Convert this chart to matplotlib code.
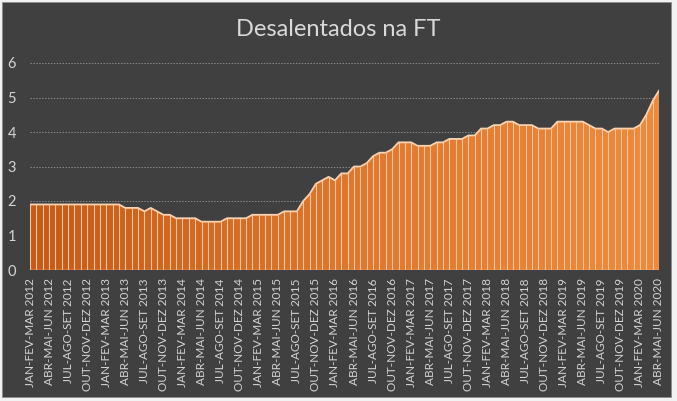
import numpy as np
import matplotlib
matplotlib.use("Agg")
from matplotlib import pyplot as plt
from matplotlib.colors import LinearSegmentedColormap
from matplotlib.patches import Rectangle

plt.rcParams['font.family'] = ['Lato', 'DejaVu Sans']

## data: desalentados na FT (%), trimestres móveis
quarters = ['JAN-FEV-MAR', 'ABR-MAI-JUN', 'JUL-AGO-SET', 'OUT-NOV-DEZ']
years = list(range(2012, 2021))
values = [1.9, 1.9, 1.9, 1.9, 1.9, 1.9, 1.9, 1.9, 1.9, 1.9,
          1.9, 1.9, 1.9, 1.9, 1.9, 1.8, 1.8, 1.8, 1.7, 1.8,
          1.7, 1.6, 1.6, 1.5, 1.5, 1.5, 1.5, 1.4, 1.4, 1.4,
          1.4, 1.5, 1.5, 1.5, 1.5, 1.6, 1.6, 1.6, 1.6, 1.6,
          1.7, 1.7, 1.7, 2.0, 2.2, 2.5, 2.6, 2.7, 2.6, 2.8,
          2.8, 3.0, 3.0, 3.1, 3.3, 3.4, 3.4, 3.5, 3.7, 3.7,
          3.7, 3.6, 3.6, 3.6, 3.7, 3.7, 3.8, 3.8, 3.8, 3.9,
          3.9, 4.1, 4.1, 4.2, 4.2, 4.3, 4.3, 4.2, 4.2, 4.2,
          4.1, 4.1, 4.1, 4.3, 4.3, 4.3, 4.3, 4.3, 4.2, 4.1,
          4.1, 4.0, 4.1, 4.1, 4.1, 4.1, 4.2, 4.5, 4.9, 5.2]

labels = ['%s %d' % (q, y) for y in years for q in quarters]
labels = labels[:len(values[::3])]

bg = '#404040'
txt = '#d4d4d4'

x = np.arange(len(values))
v = np.array(values)

fig = plt.figure(figsize=(6.77, 4.01), dpi=100)
fig.patch.set_facecolor('#f2f2f2')
fig.patches.append(Rectangle((2/677, 4/401), 669/677, 395/401, transform=fig.transFigure,
                             facecolor=bg, edgecolor='#8c8c8c', lw=0.6, zorder=-1))

ax = fig.add_axes([30/677, 1 - 270/401, 629/677, 207/401])
ax.set_facecolor(bg)

# gridlines
ax.set_ylim(0, 6)
ax.set_xlim(0, len(values) - 1)
ax.set_yticks(range(7))
for yv in range(1, 7):
    ax.axhline(yv, color='#8a8a8a', lw=0.7, ls=(0, (1.5, 1.5)), zorder=0)

# area with horizontal gradient
poly = ax.fill_between(x, 0, v, color='none', lw=0, zorder=1)
cmap = LinearSegmentedColormap.from_list('orng', ['#c65a16', '#e0762c', '#ef8a3c'])
grad = np.linspace(0, 1, 256).reshape(1, -1)
im = ax.imshow(grad, cmap=cmap, aspect='auto', extent=[0, len(values) - 1, 0, 6],
               origin='lower', zorder=1)
path = poly.get_paths()[0]
im.set_clip_path(path, transform=ax.transData)

ax.vlines(x, 0, v, color='#f7c8a2', lw=0.8, zorder=2)
ax.plot(x, v, color='#f9d2b2', lw=1.3, zorder=3)
ax.axhline(0, color='#f7c8a2', lw=1.0, zorder=3)

for s in ax.spines.values():
    s.set_visible(False)

ax.set_xticks(x[::3])
ax.set_xticklabels(labels, rotation=90, fontsize=8.5, color=txt)
ax.tick_params(axis='both', length=0)
ax.tick_params(axis='x', pad=6)
ax.tick_params(axis='y', labelsize=10.5, labelcolor=txt, pad=10)

fig.text(0.5, 1 - 29/401, 'Desalentados na FT', ha='center', va='center',
         fontsize=17, color='#d9d9d9')

fig.savefig('out.png', dpi=100, facecolor=fig.get_facecolor())
